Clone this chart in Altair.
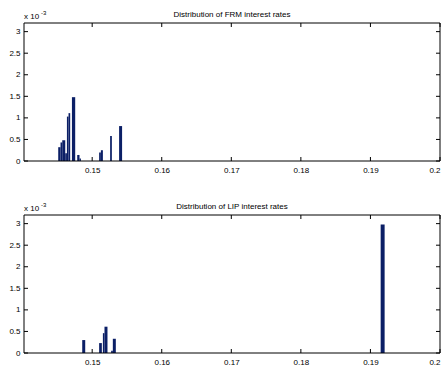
import altair as alt
import pandas as pd

# ---- data (interest rate bins; heights in units of 1e-3) ----
frm_lo = [0.14512, 0.14545, 0.14570, 0.14613, 0.14637, 0.14660, 0.14709, 0.14785, 0.14818,
          0.15100, 0.15125, 0.15258, 0.15387]
frm_hi = [0.14545, 0.14570, 0.14613, 0.14637, 0.14660, 0.14684, 0.14756, 0.14818, 0.14838,
          0.15125, 0.15154, 0.15283, 0.15430]
frm_h = [0.32, 0.43, 0.48, 0.18, 1.03, 1.11, 1.48, 0.14, 0.06, 0.20, 0.25, 0.58, 0.81]

lip_lo = [0.14857, 0.15100, 0.15154, 0.15177, 0.15273, 0.15297, 0.19147]
lip_hi = [0.14900, 0.15139, 0.15177, 0.15220, 0.15297, 0.15340, 0.19204]
lip_h = [0.30, 0.23, 0.46, 0.61, 0.05, 0.33, 2.98]

x_ticks = [0.15, 0.16, 0.17, 0.18, 0.19, 0.20]
y_ticks = [0, 0.5, 1, 1.5, 2, 2.5, 3]
x_domain = [0.1402, 0.2]
y_domain = [0, 3.2]

titles = ["Distribution of FRM interest rates", "Distribution of LIP interest rates"]

W, H = 416, 138
FONT = "Liberation Sans"
BAR = "#0b1f66"
TL = 4

ax_common = dict(title=None, ticks=False, domain=False, grid=False, labelOverlap=False,
                 labelExpr="format(datum.value, '~g')", labelFontSize=8,
                 labelFont=FONT, labelColor="#000")
XA = alt.Axis(values=x_ticks, labelPadding=5, **ax_common)
YA = alt.Axis(values=y_ticks, labelPadding=4, **ax_common)
XS = alt.Scale(domain=x_domain, nice=False, zero=False)
YS = alt.Scale(domain=y_domain, nice=False)


def panel(lo, hi, h, title):
    df = pd.DataFrame({"lo": lo, "hi": hi, "h": h})
    bars = alt.Chart(df).mark_rect(color=BAR).encode(
        x=alt.X("lo:Q", scale=XS, axis=XA),
        x2="hi:Q",
        y=alt.Y("h:Q", scale=YS, axis=YA),
        y2=alt.datum(0),
    )
    xt = pd.DataFrame({"v": x_ticks})
    yt = pd.DataFrame({"v": y_ticks})
    rule = dict(color="#000", strokeWidth=1)
    xtick_b = alt.Chart(xt).mark_rule(**rule).encode(
        x=alt.X("v:Q", scale=XS, axis=XA), y=alt.value(H), y2=alt.value(H - TL))
    xtick_t = alt.Chart(xt).mark_rule(**rule).encode(
        x=alt.X("v:Q", scale=XS, axis=XA), y=alt.value(0), y2=alt.value(TL))
    ytick_l = alt.Chart(yt).mark_rule(**rule).encode(
        y=alt.Y("v:Q", scale=YS, axis=YA), x=alt.value(0), x2=alt.value(TL))
    ytick_r = alt.Chart(yt).mark_rule(**rule).encode(
        y=alt.Y("v:Q", scale=YS, axis=YA), x=alt.value(W), x2=alt.value(W - TL))
    one = pd.DataFrame({"f": [0]})
    f_top = alt.Chart(one).mark_rule(**rule).encode(
        x=alt.value(0), x2=alt.value(W), y=alt.value(0))
    f_bot = alt.Chart(one).mark_rule(**rule).encode(
        x=alt.value(0), x2=alt.value(W), y=alt.value(H))
    f_left = alt.Chart(one).mark_rule(**rule).encode(
        y=alt.value(0), y2=alt.value(H), x=alt.value(0))
    f_right = alt.Chart(one).mark_rule(**rule).encode(
        y=alt.value(0), y2=alt.value(H), x=alt.value(W))
    ttl = alt.Chart(pd.DataFrame({"t": [title]})).mark_text(
        align="center", baseline="alphabetic", fontSize=8, font=FONT, color="#000").encode(
        text="t:N", x=alt.value(W / 2), y=alt.value(-6))
    mult = alt.Chart(pd.DataFrame({"t": ["x 10"]})).mark_text(
        align="left", baseline="alphabetic", fontSize=8, font=FONT, color="#000").encode(
        text="t:N", x=alt.value(0), y=alt.value(-4))
    expo = alt.Chart(pd.DataFrame({"t": ["-3"]})).mark_text(
        align="left", baseline="alphabetic", fontSize=6, font=FONT, color="#000").encode(
        text="t:N", x=alt.value(17), y=alt.value(-8))
    return alt.layer(bars, f_top, f_bot, f_left, f_right, xtick_b, xtick_t, ytick_l, ytick_r,
                     ttl, mult, expo).properties(width=W, height=H)


chart = alt.vconcat(
    panel(frm_lo, frm_hi, frm_h, titles[0]),
    panel(lip_lo, lip_hi, lip_h, titles[1]),
    spacing=28,
).properties(
    padding={"left": 8, "top": 10, "right": 0, "bottom": 0},
    background="white",
).configure_view(stroke=None)

chart.save("out.html", embed_options={"renderer": "svg", "actions": False})
